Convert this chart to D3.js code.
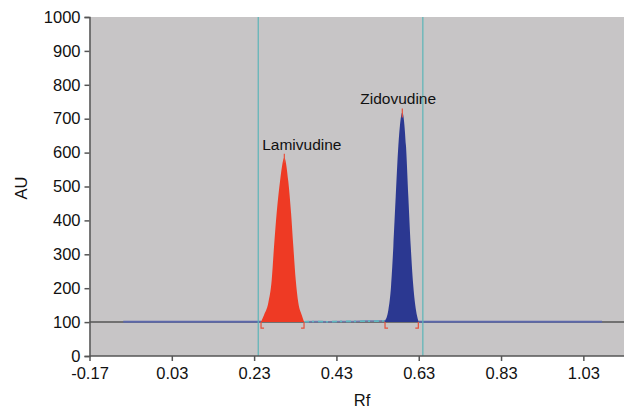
<!DOCTYPE html>
<html>
<head>
<meta charset="utf-8">
<script src="https://cdn.jsdelivr.net/npm/d3@7"></script>
<style>
  body { margin: 0; background: #fff; }
  text { font-family: "Liberation Sans", Arial, sans-serif; fill: #111; }
</style>
</head>
<body>
<script>
// chart data (Rf, AU)
var yTicks = [0, 100, 200, 300, 400, 500, 600, 700, 800, 900, 1000];
var xTicks = [-0.17, 0.03, 0.23, 0.43, 0.63, 0.83, 1.03];

var lamiRf = [0.2468, 0.2541, 0.2645, 0.2728, 0.2784, 0.2849, 0.2929, 0.3034, 0.3131, 0.3197, 0.3253, 0.3311, 0.3374, 0.3457, 0.3513];
var lamiAU = [101, 121, 157, 225, 323, 423, 515, 585, 515, 423, 323, 225, 157, 121, 101];

var zidoRf = [0.5481, 0.5561, 0.5627, 0.5683, 0.5741, 0.5804, 0.5901, 0.5991, 0.6047, 0.6106, 0.6169, 0.6234, 0.6290];
var zidoAU = [104, 135, 205, 323, 471, 619, 718, 619, 471, 323, 205, 135, 104];

var leadRf = [-0.088, 0.2468];
var leadAU = [101, 101];
var midRf = [0.3513, 0.38, 0.41, 0.44, 0.47, 0.50, 0.53, 0.5481];
var midAU = [101, 102, 101, 102, 102, 103, 103, 104];
var tailRf = [0.6290, 0.80, 1.0755];
var tailAU = [101, 101, 101];

var peakNames = ["Lamivudine", "Zidovudine"];
var peakApexRf = [0.3034, 0.5901];
var peakApexAU = [585, 718];
var labelRf = [0.346, 0.580];
var labelAU = [608, 743];
var peakStartRf = [0.2468, 0.5481];
var peakEndRf = [0.3513, 0.6290];
var trackRf = [0.24, 0.64];

var W = 624, H = 410;
var svg = d3.select("body").append("svg")
    .attr("width", W)
    .attr("height", H);

var x = d3.scaleLinear().domain([-0.17, 1.13]).range([89.5, 624.5]);
var y = d3.scaleLinear().domain([0, 1000]).range([356, 17]);

// plot background
svg.append("rect")
    .attr("x", x(-0.17)).attr("y", y(1000))
    .attr("width", x(1.13) - x(-0.17)).attr("height", y(0) - y(1000))
    .attr("fill", "#c7c5c6");

// reference line at 100
svg.append("line")
    .attr("x1", x(-0.17)).attr("x2", x(1.13))
    .attr("y1", y(100)).attr("y2", y(100))
    .attr("stroke", "#555").attr("stroke-width", 1.5);

function pts(rf, au) {
    return rf.map(function (d, i) { return [d, au[i]]; });
}

var line = d3.line().x(function (d) { return x(d[0]); }).y(function (d) { return y(d[1]); });
var area = d3.area()
    .x(function (d) { return x(d[0]); })
    .y0(y(100))
    .y1(function (d) { return y(d[1]); })
    .curve(d3.curveMonotoneX);

// baseline trace
[pts(leadRf, leadAU), pts(tailRf, tailAU)].forEach(function (p) {
    svg.append("path").attr("d", line(p))
        .attr("fill", "none").attr("stroke", "#5d68aa").attr("stroke-width", 2);
});
svg.append("path").attr("d", line(pts(midRf, midAU)))
    .attr("fill", "none").attr("stroke", "#6f7cb0").attr("stroke-width", 1.5);
svg.append("path").attr("d", line(pts(midRf, midAU)))
    .attr("fill", "none").attr("stroke", "#5fb8c0").attr("stroke-width", 1.6)
    .attr("stroke-dasharray", "5,3,2,4");

// peaks
svg.append("path").attr("d", area(pts(lamiRf, lamiAU)))
    .attr("fill", "#ee3a24");
svg.append("path").attr("d", area(pts(zidoRf, zidoAU)))
    .attr("fill", "#2b3891");

// track lines
svg.selectAll(".track").data(trackRf).enter().append("line")
    .attr("x1", function (d) { return x(d); })
    .attr("x2", function (d) { return x(d); })
    .attr("y1", y(1000)).attr("y2", y(0))
    .attr("stroke", "#5bb5b8").attr("stroke-width", 1.2);

// integration brackets
var red = "#e8503a";
peakStartRf.forEach(function (d) {
    var px = x(d), py = y(100);
    svg.append("path").attr("d", "M" + (px + 3) + "," + (py + 6) + "H" + px + "V" + py)
        .attr("fill", "none").attr("stroke", red).attr("stroke-width", 1.2);
});
peakEndRf.forEach(function (d) {
    var px = x(d), py = y(100);
    svg.append("path").attr("d", "M" + (px - 3) + "," + (py + 6) + "H" + px + "V" + py)
        .attr("fill", "none").attr("stroke", red).attr("stroke-width", 1.2);
});

// apex marks
peakApexRf.forEach(function (d, i) {
    svg.append("line")
        .attr("x1", x(d)).attr("x2", x(d))
        .attr("y1", y(peakApexAU[i]) - 4).attr("y2", y(peakApexAU[i]) + 5)
        .attr("stroke", red).attr("stroke-width", 1.2);
});

// peak labels
svg.selectAll(".plabel").data(peakNames).enter().append("text")
    .attr("x", function (d, i) { return x(labelRf[i]); })
    .attr("y", function (d, i) { return y(labelAU[i]); })
    .attr("text-anchor", "middle")
    .style("font-size", "15.5px")
    .text(function (d) { return d; });

// axes
var yAxis = d3.axisLeft(y).tickValues(yTicks).tickSize(5).tickPadding(4)
    .tickFormat(d3.format("d"));
var gy = svg.append("g").attr("transform", "translate(" + x(-0.17) + ",0)").call(yAxis);
var xAxis = d3.axisBottom(x).tickValues(xTicks).tickSize(5).tickPadding(6)
    .tickFormat(function (d) { return d3.format(".2f")(d).replace("\u2212", "-"); });
var gx = svg.append("g").attr("transform", "translate(0," + y(0) + ")").call(xAxis);

[gx, gy].forEach(function (g) {
    g.select(".domain").attr("stroke", "#555").attr("stroke-width", 1.5);
    g.selectAll(".tick line").attr("stroke", "#555").attr("stroke-width", 1.5);
    g.selectAll(".tick text").style("font-size", "16.5px").attr("fill", "#111");
});
gx.select(".domain").attr("d", "M" + x(-0.17) + ",0H624");

svg.append("text")
    .attr("transform", "translate(27,188) rotate(-90)")
    .attr("text-anchor", "middle")
    .style("font-size", "16.5px")
    .text("AU");
svg.append("text")
    .attr("x", 362).attr("y", 406)
    .attr("text-anchor", "middle")
    .style("font-size", "16.5px")
    .text("Rf");
</script>
</body>
</html>
